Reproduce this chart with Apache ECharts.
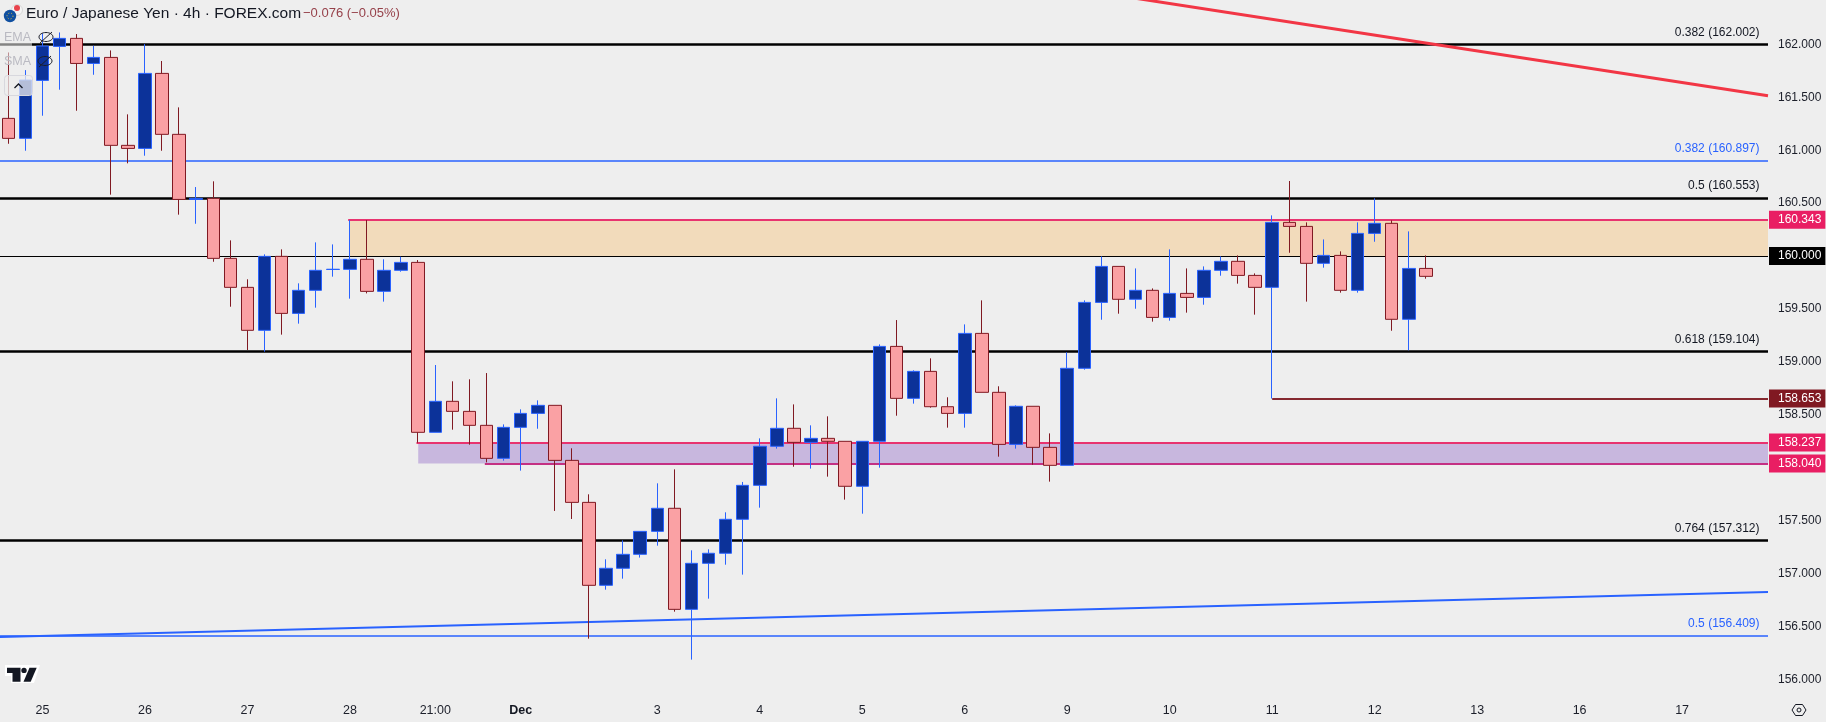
<!DOCTYPE html>
<html>
<head>
<meta charset="utf-8">
<title>EUR/JPY 4h</title>
<style>
html,body{margin:0;padding:0;background:#eeeeee;}
#chart{width:1826px;height:722px;}
</style>
<script src="https://cdn.jsdelivr.net/npm/echarts@6/dist/echarts.min.js"></script>
</head>
<body>
<div id="chart"></div>
<script>
// candles, oldest first
var opens = [161.301,161.112,161.660,161.981,162.057,161.820,161.877,161.046,161.017,161.726,
	161.150,160.535,160.545,159.978,159.704,159.298,159.997,159.458,159.676,159.873,
	159.874,159.969,159.666,159.865,159.940,158.334,158.627,158.532,158.400,158.088,
	158.381,158.513,158.589,158.069,157.672,156.888,157.049,157.181,157.398,157.616,
	156.661,157.096,157.191,157.512,157.833,158.202,158.372,158.239,158.277,158.249,
	157.824,158.249,159.146,158.655,158.910,158.576,158.513,159.269,158.712,158.220,
	158.580,158.192,158.022,158.939,159.562,159.902,159.591,159.676,159.420,159.647,
	159.609,159.865,159.950,159.817,159.704,160.318,160.280,159.931,160.006,159.676,
	160.214,160.309,159.402,159.883];
var closes = [161.112,161.663,161.984,162.057,161.820,161.877,161.046,161.017,161.726,161.150,
	160.535,160.545,159.978,159.704,159.298,159.997,159.458,159.676,159.865,159.875,
	159.969,159.666,159.865,159.940,158.334,158.627,158.532,158.400,158.088,158.381,
	158.513,158.589,158.069,157.672,156.888,157.049,157.181,157.398,157.616,156.661,
	157.096,157.191,157.512,157.833,158.202,158.372,158.239,158.277,158.249,157.824,
	158.249,159.146,158.655,158.910,158.576,158.513,159.269,158.712,158.220,158.580,
	158.192,158.022,158.939,159.562,159.902,159.591,159.676,159.420,159.647,159.609,
	159.865,159.950,159.817,159.704,160.318,160.280,159.931,160.006,159.676,160.214,
	160.309,159.402,159.883,159.808];
var lows = [161.061,160.995,161.326,161.572,161.373,161.713,160.580,160.876,160.948,160.995,
	160.391,160.305,159.946,159.521,159.112,159.096,159.257,159.361,159.512,159.805,
	159.597,159.647,159.569,159.852,158.236,158.334,158.359,158.217,158.050,158.066,
	157.972,158.368,157.591,157.515,156.384,156.847,156.951,157.150,157.263,156.639,
	156.186,156.762,157.083,156.989,157.622,158.180,158.009,157.991,157.915,157.698,
	157.565,158.000,158.491,158.605,158.567,158.378,158.378,158.712,158.104,158.180,
	158.028,157.868,158.022,158.926,159.398,159.455,159.502,159.380,159.389,159.465,
	159.540,159.814,159.739,159.446,158.653,160.031,159.569,159.890,159.654,159.654,
	160.135,159.294,159.109,159.786];
var highs = [161.924,161.757,162.104,162.113,162.098,161.987,161.943,161.339,162.003,161.843,
	161.405,160.652,160.706,160.148,159.780,160.016,160.063,159.742,160.129,160.110,
	160.340,160.340,159.969,159.994,159.962,158.970,158.816,158.835,158.894,158.409,
	158.551,158.636,158.589,158.183,157.748,157.134,157.313,157.398,157.852,157.984,
	157.219,157.228,157.578,157.865,158.277,158.655,158.598,158.400,158.485,158.249,
	158.249,159.165,159.395,158.920,159.033,158.665,159.354,159.581,158.769,158.589,
	158.580,158.324,159.090,159.581,159.997,159.902,159.883,159.694,160.063,159.883,
	159.902,159.997,160.006,159.836,160.384,160.709,160.318,160.157,160.044,160.318,
	160.545,160.337,160.233,160.006];

// time axis: candle index -> label
var dateTicks = [2,8,14,20,25,30,38,44,50,56,62,68,74,80,86,92,98];
var dateLabels = ['25','26','27','28','21:00','Dec','3','4','5','6','9','10','11','12','13','16','17'];

// price axis
var priceTicks = [162,161.5,161,160.5,159.5,159,158.5,157.5,157,156.5,156];
var tagPrices = [160.343,160,158.653,158.237,158.04];
var tagStyles = ['pink','black','wine','pink','pink'];

// fib levels
var blackFibs = [162.002,160.553,159.104,157.312];
var blackFibNames = ['0.382','0.5','0.618','0.764'];
var blueFibs = [160.897,156.409];
var blueFibNames = ['0.382','0.5'];

// zones [start index, top, bottom]
var orangeZone = [20,160.343,160];
var purpleZone = [24,158.237,158.04];
var lowLine = [74,158.653];

// trend lines [index, price]
var redTrend = [[66,162.436],[103.03,161.515]];
var blueTrend = [[-0.49,156.40],[103.03,156.825]];

var xMin = -0.486, xMax = 103.03;
var yMin = 155.861, yMax = 162.4196;
var font = '"Liberation Sans", Arial, sans-serif';

var candleData = [];
for(var i = 0; i < opens.length; i++){
	candleData.push([i,opens[i],closes[i],lows[i],highs[i]]);
}

function fibLine(price,name,color,width){
	return {
		yAxis: price,
		lineStyle: {color:color,width:width,type:'solid'},
		label: {
			show: true,
			position: 'insideEndTop',
			distance: 5,
			padding: [0,3.5,1,0],
			color: color == '#000000' ? '#131722' : color,
			fontFamily: font,
			fontSize: 12,
			formatter: name + ' (' + price.toFixed(3) + ')'
		}
	};
}

function segment(x0,x1,price,color,width){
	return [
		{coord:[x0,price],lineStyle:{color:color,width:width,type:'solid'}},
		{coord:[x1,price]}
	];
}

var lineItems = [];
for(var i = 0; i < blackFibs.length; i++){
	lineItems.push(fibLine(blackFibs[i],blackFibNames[i],'#000000',2.6));
}
for(var i = 0; i < blueFibs.length; i++){
	lineItems.push(fibLine(blueFibs[i],blueFibNames[i],'#2962ff',1.7));
}
lineItems.push({yAxis:tagPrices[1],label:{show:false},lineStyle:{color:'#000000',width:1,type:'solid'}});
lineItems.push(segment(orangeZone[0]-0.1,xMax,orangeZone[1],'#e8336f',2));
lineItems.push(segment(purpleZone[0]-0.1,xMax,purpleZone[1],'#e8336f',2));
lineItems.push(segment(28-0.1,xMax,purpleZone[2],'#c43083',2));
lineItems.push(segment(lowLine[0],xMax,lowLine[1],'#85282f',2));

var iconColor = '#1c1f2a';
var option = {
	animation: false,
	backgroundColor: '#eeeeee',
	title: [
		{text:'Euro / Japanese Yen · 4h · FOREX.com',left:26,top:6,padding:0,textStyle:{fontFamily:font,fontSize:15.5,fontWeight:'normal',color:'#131722'}},
		{text:'−0.076 (−0.05%)',left:303,top:7,padding:0,textStyle:{fontFamily:font,fontSize:13,fontWeight:'normal',color:'#96414a'}}
	],
	grid: {left:0,right:58,top:0,bottom:28,outerBoundsMode:'none'},
	xAxis: {
		type: 'value',
		min: xMin,
		max: xMax,
		splitLine: {show:false},
		axisLine: {show:false},
		axisTick: {show:false},
		axisLabel: {
			customValues: dateTicks,
			margin: 10,
			color: '#1c1f2a',
			fontFamily: font,
			fontSize: 12.5,
			formatter: function(v){
				var s = dateLabels[dateTicks.indexOf(v)];
				return s == 'Dec' ? '{b|Dec}' : s;
			},
			rich: {b:{fontWeight:'bold',fontFamily:font,fontSize:12.5,color:'#131722'}}
		}
	},
	yAxis: [
		{
			type: 'value',
			position: 'right',
			min: yMin,
			max: yMax,
			splitLine: {show:false},
			axisLine: {show:false},
			axisTick: {show:false},
			axisLabel: {
				customValues: priceTicks,
				margin: 10,
				color: '#1c1f2a',
				fontFamily: font,
				fontSize: 12,
				formatter: function(v){ return v.toFixed(3); }
			}
		},
		{
			// coloured price tags sit on their own overlaid axis
			type: 'value',
			position: 'right',
			min: yMin,
			max: yMax,
			splitLine: {show:false},
			axisLine: {show:false},
			axisTick: {show:false},
			axisLabel: {
				customValues: tagPrices,
				margin: 1,
				fontFamily: font,
				fontSize: 12,
				formatter: function(v){
					var s = tagStyles[tagPrices.indexOf(v)];
					return '{' + s + '|' + v.toFixed(3) + '}';
				},
				rich: {
					pink: {color:'#ffffff',backgroundColor:'#e91e63',padding:[3,4,3,9],fontFamily:font,fontSize:12},
					black: {color:'#ffffff',backgroundColor:'#000000',padding:[3,4,3,9],fontFamily:font,fontSize:12},
					wine: {color:'#ffffff',backgroundColor:'#801922',padding:[3,4,3,9],fontFamily:font,fontSize:12}
				}
			}
		}
	],
	series: [
		{
			name: 'levels',
			type: 'line',
			data: [],
			silent: true,
			markArea: {
				silent: true,
				z: 0,
				data: [
					[{coord:[orangeZone[0],orangeZone[1]],itemStyle:{color:'#f2dbbb'}},{coord:[xMax,orangeZone[2]]}],
					[{coord:[purpleZone[0],purpleZone[1]],itemStyle:{color:'#c8b7de'}},{coord:[xMax,purpleZone[2]]}]
				]
			},
			markLine: {
				silent: true,
				symbol: 'none',
				z: 1,
				animation: false,
				data: lineItems
			}
		},
		{
			name: 'red trend',
			type: 'line',
			z: 1,
			data: redTrend,
			showSymbol: false,
			silent: true,
			lineStyle: {color:'#f23645',width:3}
		},
		{
			name: 'blue trend',
			type: 'line',
			z: 1,
			data: blueTrend,
			showSymbol: false,
			silent: true,
			lineStyle: {color:'#2962ff',width:2}
		},
		{
			name: 'EURJPY',
			type: 'candlestick',
			z: 3,
			barWidth: 13,
			data: candleData,
			itemStyle: {
				color: '#0c3299',
				color0: '#faa1a4',
				borderColor: '#2962ff',
				borderColor0: '#801922',
				borderWidth: 1
			}
		}
	],
	graphic: [
		// symbol icon next to the title
		{type:'circle',z:10,shape:{cx:17,cy:10,r:5.5},style:{fill:'#f5f5f5',stroke:'#d8d8d8'}},
		{type:'circle',z:10,shape:{cx:17,cy:8,r:3},style:{fill:'#e8434c'}},
		{type:'circle',z:11,shape:{cx:10,cy:16,r:6.2},style:{fill:'#0f4fa0'}},
		{type:'circle',z:12,shape:{cx:10,cy:16,r:3},style:{fill:'none',stroke:'#e6c23a',lineWidth:1,lineDash:[1,2]}},
		// hidden indicators: EMA, SMA and the collapse button
		{type:'rect',z:10,shape:{x:0,y:30,width:32,height:34},style:{fill:'rgba(238,238,238,0.55)'}},
		{type:'text',z:11,style:{text:'EMA',x:4,y:31,fill:'#babac2',fontFamily:font,fontSize:12.5}},
		{type:'text',z:11,style:{text:'SMA',x:4,y:55,fill:'#babac2',fontFamily:font,fontSize:12.5}},
		{type:'ellipse',z:11,shape:{cx:46,cy:37,rx:7,ry:4.5},style:{fill:'none',stroke:iconColor,lineWidth:1}},
		{type:'line',z:11,shape:{x1:40,y1:43,x2:52,y2:32},style:{stroke:iconColor,lineWidth:1}},
		{type:'ellipse',z:11,shape:{cx:45,cy:61,rx:7,ry:4.5},style:{fill:'none',stroke:iconColor,lineWidth:1}},
		{type:'line',z:11,shape:{x1:39,y1:67,x2:51,y2:56},style:{stroke:iconColor,lineWidth:1}},
		{type:'rect',z:11,shape:{x:4.5,y:75.5,width:28,height:20,r:3},style:{fill:'rgba(238,238,238,0.75)',stroke:'#d8d8de',lineWidth:1}},
		{type:'polyline',z:12,shape:{points:[[14.5,88],[18.5,84],[22.5,88]]},style:{fill:'none',stroke:'#131722',lineWidth:1.3}},
		// TradingView mark
		{type:'polygon',z:10,shape:{points:[[5,665],[40,665],[34,683],[11,683],[11,676],[5,676]]},style:{fill:'#ffffff'}},
		{type:'polygon',z:11,shape:{points:[[7,667.7],[20.5,667.7],[20.5,681.7],[12.5,681.7],[12.5,673],[7,673]]},style:{fill:'#131722'}},
		{type:'circle',z:11,shape:{cx:24,cy:670.4,r:2.7},style:{fill:'#131722'}},
		{type:'polygon',z:11,shape:{points:[[29.5,667.7],[36.7,667.7],[30.7,681.7],[23.5,681.7]]},style:{fill:'#131722'}},
		// settings button
		{type:'polygon',z:11,shape:{points:[[1792,710],[1795.5,704.5],[1802.5,704.5],[1806,710],[1802.5,715.5],[1795.5,715.5]]},style:{fill:'none',stroke:'#131722',lineWidth:1}},
		{type:'circle',z:11,shape:{cx:1799,cy:710,r:2},style:{fill:'none',stroke:'#131722',lineWidth:1}}
	]
};

var chart = echarts.init(document.getElementById('chart'));
chart.setOption(option);
</script>
</body>
</html>
